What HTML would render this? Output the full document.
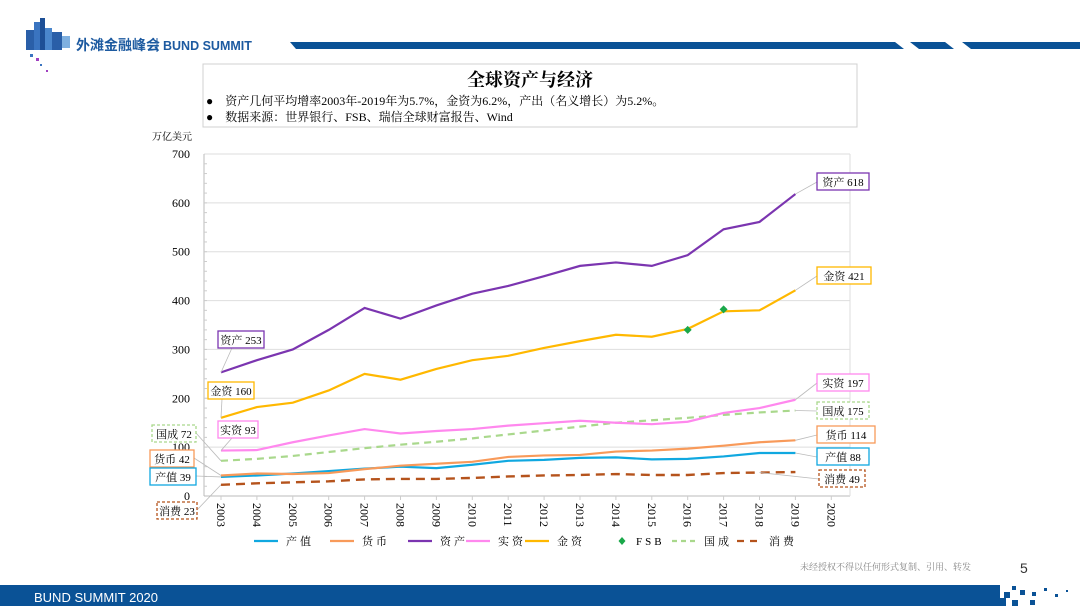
<!DOCTYPE html>
<html><head><meta charset="utf-8">
<style>
body{margin:0;width:1080px;height:606px;overflow:hidden;background:#fff;}
</style></head>
<body>
<svg id="s" width="1080" height="606" xmlns="http://www.w3.org/2000/svg" font-family="Liberation Serif, Noto Serif CJK SC, serif">
  <g>
    <rect x="26" y="30" width="8" height="20" fill="#2a5fa8"/><rect x="34" y="22" width="6" height="28" fill="#3a74c0"/><rect x="40" y="18" width="5" height="32" fill="#1d4f96"/><rect x="45" y="28" width="7" height="22" fill="#4a86cc"/><rect x="52" y="32" width="10" height="18" fill="#2a5fa8"/><rect x="62" y="36" width="8" height="12" fill="#7fb0e0"/>
    <rect x="30" y="54" width="3" height="3" fill="#3a74c0"/><rect x="36" y="58" width="3" height="3" fill="#a040c0"/><rect x="40" y="64" width="2" height="2" fill="#3a74c0"/><rect x="46" y="70" width="2" height="2" fill="#a040c0"/>
    <text x="76" y="50" font-size="14" font-weight="bold" fill="#1d5aa0" font-family="Liberation Sans, Noto Sans CJK SC, sans-serif">外滩金融峰会</text>
    <line x1="157" y1="38" x2="157" y2="52" stroke="#1d5aa0"/>
    <text x="163" y="50" font-size="12.5" font-weight="bold" fill="#1d5aa0" font-family="Liberation Sans, sans-serif">BUND SUMMIT</text>
  </g>
  <g fill="#0a5296">
    <polygon points="290,42 895,42 904,49 296,49"/>
    <polygon points="910,42 945,42 954,49 919,49"/>
    <polygon points="962,42 1080,42 1080,49 971,49"/>
  </g>
  <rect x="203" y="64" width="654" height="63" fill="#fff" stroke="#d0d0d0"/>
  <text x="530" y="86" font-size="18" font-weight="bold" text-anchor="middle">全球资产与经济</text>
  <text x="206" y="105" font-size="12">●　资产几何平均增率2003年-2019年为5.7%，金资为6.2%，产出（名义增长）为5.2%。</text>
  <text x="206" y="121" font-size="12">●　数据来源：世界银行、FSB、瑞信全球财富报告、Wind</text>
  <text x="152" y="140" font-size="10">万亿美元</text>
  <g id="plot"></g>
  <g id="legend"></g>
  <text x="800" y="570" font-size="9" fill="#888">未经授权不得以任何形式复制、引用、转发</text>
  <text x="1020" y="573" font-size="14" fill="#333" font-family="Liberation Sans, sans-serif">5</text>
  <rect x="0" y="585" width="1000" height="21" fill="#0a5296"/>
  <g fill="#0a5296"><rect x="990" y="588" width="8" height="8"/><rect x="1004" y="592" width="6" height="6"/><rect x="1012" y="586" width="4" height="4"/><rect x="1020" y="590" width="5" height="5"/><rect x="1032" y="592" width="4" height="4"/><rect x="1044" y="588" width="3" height="3"/><rect x="996" y="598" width="10" height="8"/><rect x="1012" y="600" width="6" height="6"/><rect x="1030" y="600" width="5" height="5"/><rect x="1055" y="594" width="3" height="3"/><rect x="1066" y="590" width="2" height="2"/></g>
  <text x="34" y="602" font-size="13" fill="#fff" font-family="Liberation Sans, sans-serif">BUND SUMMIT 2020</text>
</svg>
<script>
const years=[2003,2004,2005,2006,2007,2008,2009,2010,2011,2012,2013,2014,2015,2016,2017,2018,2019];
const axisYears=[2003,2004,2005,2006,2007,2008,2009,2010,2011,2012,2013,2014,2015,2016,2017,2018,2019,2020];
const yTicks=[0,100,200,300,400,500,600,700];
const chanzhi=[39,42,46,51,56,60,57,64,72,74,78,79,75,76,81,88,88];
const huobi=[42,46,45,47,55,62,66,70,80,83,84,91,93,97,103,110,114];
const zichan=[253,278,300,340,385,363,390,414,430,450,471,478,471,493,546,561,618];
const shizi=[93,94,110,124,137,128,133,137,144,149,154,150,147,152,170,180,197];
const jinzi=[160,182,191,216,250,238,260,278,287,303,317,330,326,342,378,380,421];
const guocheng=[72,76,82,90,98,105,111,118,126,134,142,150,155,160,166,171,175];
const xiaofei=[23,26,28,30,34,35,35,37,40,42,43,45,43,43,47,48,49];
const fsbYears=[2016,2017];
const fsbVals=[340,382];
const NS="http://www.w3.org/2000/svg";
const X0=204,X1=850,Y0=496,Y1=154;
function xs(y){return 221+(y-2003)*35.9;}
function ys(v){return Y0-(v/700)*(Y0-Y1);}
const plot=document.getElementById('plot');


function mk(tag,attrs,parent){const e=document.createElementNS(NS,tag);for(const k in attrs)e.setAttribute(k,attrs[k]);(parent||plot).appendChild(e);return e;}
yTicks.forEach(t=>{
  const g=mk('line',{x1:X0,x2:X1,y1:ys(t),y2:ys(t),stroke:t===0?'#bbb':'#dedede'});
  
  
  const tx=mk('text',{x:190,y:ys(t)+4,'font-size':12,'text-anchor':'end'});tx.textContent=t;
  
  
});
mk('line',{x1:X0,x2:X0,y1:Y1,y2:Y0,stroke:'#bbb'});
mk('line',{x1:X1,x2:X1,y1:Y1,y2:Y0,stroke:'#dedede'});
for(let v=20;v<700;v+=20){mk('line',{x1:X0,x2:X0+3,y1:ys(v),y2:ys(v),stroke:'#ccc'});}
axisYears.forEach(y=>{
  mk('line',{x1:xs(y),x2:xs(y),y1:Y0,y2:Y0+4,stroke:'#ccc'});
  const t=mk('text',{x:0,y:0,'font-size':12,transform:`translate(${xs(y)-4},${Y0+7}) rotate(90)`});t.textContent=y;
  
  
});
const series=[
 {n:'guocheng',d:guocheng,c:'#a9d88c',w:2.2,dash:'7,5'},
 {n:'xiaofei',d:xiaofei,c:'#b5531c',w:2.4,dash:'9,6'},
 {n:'chanzhi',d:chanzhi,c:'#10a8e0',w:2.2},
 {n:'huobi',d:huobi,c:'#f89a5a',w:2.2},
 {n:'shizi',d:shizi,c:'#ff88ee',w:2.2},
 {n:'jinzi',d:jinzi,c:'#ffb800',w:2.2},
 {n:'zichan',d:zichan,c:'#7b35b0',w:2.2}
];
series.forEach(s=>{
  const p=mk('polyline',{points:s.d.map((v,i)=>xs(years[i])+','+ys(v)).join(' '),fill:'none',stroke:s.c,'stroke-width':s.w,'stroke-dasharray':s.dash||'none'});
  
  
});
fsbYears.forEach((y,i)=>{
  const cx=xs(y),cy=ys(fsbVals[i]);
  const d=mk('polygon',{points:`${cx},${cy-4} ${cx+4},${cy} ${cx},${cy+4} ${cx-4},${cy}`,fill:'#1aa84a'});
  
  
});
function label(x,y,w,txt,col,dashed,lx,ly,px,py,name){
  mk('line',{x1:lx,y1:ly,x2:px,y2:py,stroke:'#bbb','stroke-width':0.8});
  const r=mk('rect',{x:x,y:y,width:w,height:17,fill:'#fff',stroke:col,'stroke-width':1.3,'stroke-dasharray':dashed?'3,2':'none'});
  
  
  const t=mk('text',{x:x+w/2,y:y+13,'font-size':11,'text-anchor':'middle'});t.textContent=txt;
}
const L=years.length-1;
label(218,331,46,'资产 253','#7b35b0',0,232,348,xs(2003),ys(zichan[0]),'label-zichan-start');
label(208,382,46,'金资 160','#ffb800',0,222,399,xs(2003),ys(jinzi[0]),'label-jinzi-start');
label(218,421,40,'实资 93','#ff88ee',0,232,438,xs(2003),ys(shizi[0]),'label-shizi-start');
label(152,425,44,'国成 72','#a9d88c',1,196,433,xs(2003),ys(guocheng[0]),'label-guocheng-start');
label(150,450,44,'货币 42','#f89a5a',0,194,458,xs(2003),ys(huobi[0]),'label-huobi-start');
label(150,468,46,'产值 39','#10a8e0',0,196,476,xs(2003),ys(chanzhi[0]),'label-chanzhi-start');
label(157,502,40,'消费 23','#b5531c',1,197,510,xs(2003),ys(xiaofei[0]),'label-xiaofei-start');
label(817,173,52,'资产 618','#7b35b0',0,817,182,xs(2019),ys(zichan[L]),'label-zichan-end');
label(817,267,54,'金资 421','#ffb800',0,817,276,xs(2019),ys(jinzi[L]),'label-jinzi-end');
label(817,374,52,'实资 197','#ff88ee',0,817,383,xs(2019),ys(shizi[L]),'label-shizi-end');
label(817,402,52,'国成 175','#a9d88c',1,817,411,xs(2019),ys(guocheng[L]),'label-guocheng-end');
label(817,426,58,'货币 114','#f89a5a',0,817,435,xs(2019),ys(huobi[L]),'label-huobi-end');
label(817,448,52,'产值 88','#10a8e0',0,817,457,xs(2019),ys(chanzhi[L]),'label-chanzhi-end');
label(819,470,46,'消费 49','#b5531c',1,819,479,xs(2018),ys(xiaofei[L-1]),'label-xiaofei-end');
const lg=document.getElementById('legend');
const leg=[['产值','#10a8e0',''],['货币','#f89a5a',''],['资产','#7b35b0',''],['实资','#ff88ee',''],['金资','#ffb800',''],['FSB','#1aa84a','d'],['国成','#a9d88c','5,4'],['消费','#b5531c','7,6']];
const lx=[254,330,408,466,525,612,672,737];
leg.forEach((l,i)=>{
  const g=mk('g',{},lg);
  
  
  if(l[2]==='d'){const cx=lx[i]+10;mk('polygon',{points:`${cx},537 ${cx+3.5},541 ${cx},545 ${cx-3.5},541`,fill:l[1]},g);}
  else mk('line',{x1:lx[i],x2:lx[i]+24,y1:541,y2:541,stroke:l[1],'stroke-width':2.2,'stroke-dasharray':l[2]||'none'},g);
  const t=mk('text',{x:lx[i]+(l[2]==='d'?24:32),y:545,'font-size':11,'letter-spacing':3},g);t.textContent=l[0];
});
</script>
</body></html>
